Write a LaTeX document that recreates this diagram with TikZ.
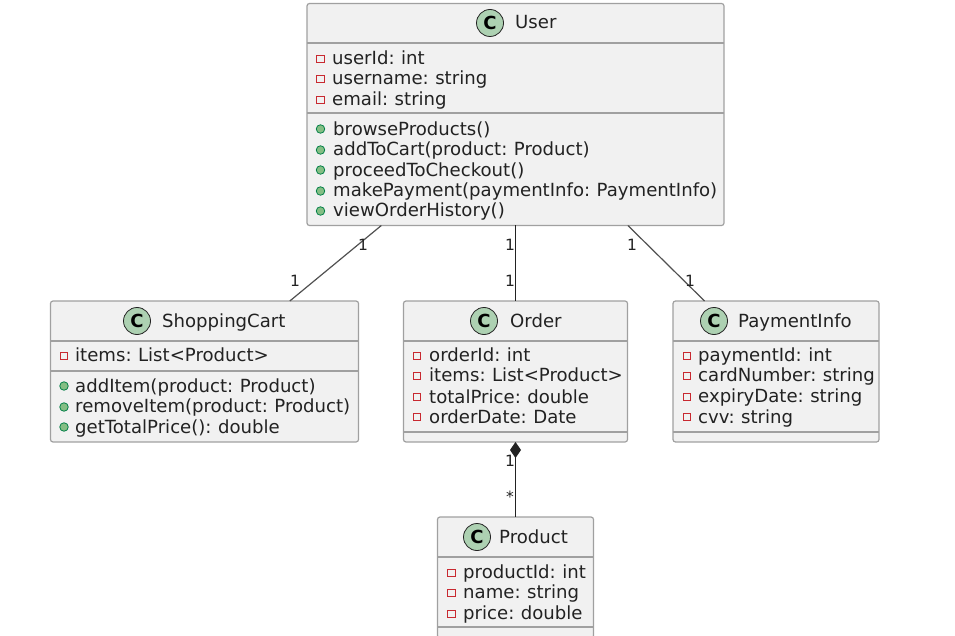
\documentclass[tikz,border=0pt]{standalone}
\usepackage{fontspec}
\usepackage{xcolor}
\usepackage{tikz}
\usetikzlibrary{arrows.meta}
\setmainfont{DejaVu Sans}
\definecolor{boxfill}{HTML}{F1F1F1}
\definecolor{boxline}{HTML}{A0A0A0}
\definecolor{spotfill}{HTML}{ADD1B2}
\definecolor{inkline}{HTML}{222222}
\definecolor{slantline}{HTML}{505050}
\definecolor{privred}{HTML}{C82930}
\definecolor{pubfill}{HTML}{84BE84}
\definecolor{publine}{HTML}{038048}
\newcommand{\memberfont}{\fontsize{18.1}{20}\selectfont\spaceskip=4.6pt\relax}
\tikzset{
  classbox/.style={draw=boxline, fill=boxfill, line width=1.2pt, rounded corners=2.5pt, inner sep=0pt, outer sep=0pt},
  spot/.style={circle, draw=inkline, fill=spotfill, line width=0.8pt, minimum size=27pt, inner sep=0pt, font=\fontsize{18}{20}\selectfont\bfseries},
  title/.style={anchor=base west, inner sep=0pt, text=inkline, font=\memberfont},
  member/.style={anchor=base west, inner sep=0pt, text=inkline, font=\memberfont},
  priv/.style={draw=privred, fill=boxfill, line width=1pt, minimum size=7.5pt, inner sep=0pt},
  pub/.style={circle, draw=publine, fill=pubfill, line width=0.8pt, minimum size=8.5pt, inner sep=0pt},
  sepline/.style={draw=boxline, line width=1.2pt},
  rel/.style={draw=inkline, line width=1.1pt},
  slant/.style={draw=slantline, line width=1.2pt},
  mult/.style={inner sep=0pt, text=inkline, font=\fontsize{15.5}{16}\selectfont}
}
\begin{document}
\begin{tikzpicture}[x=1pt, y=-1pt]
\useasboundingbox (0,0) rectangle (955,636);
\clip (0,0) rectangle (955,636);

% class boxes
\node[classbox, minimum width=417pt, minimum height=222pt] (user) at (515.5,114.5) {};
\node[classbox, minimum width=308pt, minimum height=141pt] (cart) at (204.5,371.5) {};
\node[classbox, minimum width=224pt, minimum height=141pt] (order) at (515.5,371.5) {};
\node[classbox, minimum width=206pt, minimum height=141pt] (payment) at (776,371.5) {};
\node[classbox, minimum width=156pt, minimum height=121pt] (product) at (515.5,577.5) {};

% relations
\draw[slant] (user) -- (cart);
\draw[rel] (user) -- (order);
\draw[slant] (user) -- (payment);
\draw[rel, {Diamond[length=16pt,width=11pt]}-] (order.south) -- (product.north);
\node[mult] (m1) at (363,245) {1};
\node[mult] (m2) at (295,281) {1};
\node[mult] (m3) at (510,245) {1};
\node[mult] (m4) at (510,281) {1};
\node[mult] (m5) at (632,245) {1};
\node[mult] (m6) at (690,281) {1};
\node[mult] (m7) at (510,461) {1};
\node[mult] (m8) at (510,497) {*};

% User
\node[spot] (userspot) at (490,23) {C};
\node[title] (usertitle) at (515,29) {User};
\draw[sepline] (user.west |- 0,43) -- (user.east |- 0,43);
\draw[sepline] (user.west |- 0,113) -- (user.east |- 0,113);
\node[priv] (ua1) at (320.5,59) {};
\node[member] (ua1t) at (332,65) {userId: int};
\node[priv] (ua2) at (320.5,79) {};
\node[member] (ua2t) at (332,85) {username: string};
\node[priv] (ua3) at (320.5,100) {};
\node[member] (ua3t) at (332,106) {email: string};
\node[pub] (um1) at (320.5,129) {};
\node[member] (um1t) at (333,136) {browseProducts()};
\node[pub] (um2) at (320.5,150) {};
\node[member] (um2t) at (333,156) {addToCart(product: Product)};
\node[pub] (um3) at (320.5,170) {};
\node[member] (um3t) at (333,176.5) {proceedToCheckout()};
\node[pub] (um4) at (320.5,191) {};
\node[member] (um4t) at (333,197) {makePayment(paymentInfo: PaymentInfo)};
\node[pub] (um5) at (320.5,211) {};
\node[member] (um5t) at (333,217) {viewOrderHistory()};

% ShoppingCart
\node[spot] (cartspot) at (137,321) {C};
\node[title] (carttitle) at (162,327) {ShoppingCart};
\draw[sepline] (cart.west |- 0,341) -- (cart.east |- 0,341);
\draw[sepline] (cart.west |- 0,371) -- (cart.east |- 0,371);
\node[priv] (ca1) at (64,356) {};
\node[member] (ca1t) at (75,361.5) {items: List<Product>};
\node[pub] (cm1) at (64,386) {};
\node[member] (cm1t) at (75,392) {addItem(product: Product)};
\node[pub] (cm2) at (64,407) {};
\node[member] (cm2t) at (75,412.5) {removeItem(product: Product)};
\node[pub] (cm3) at (64,427) {};
\node[member] (cm3t) at (75,433) {getTotalPrice(): double};

% Order
\node[spot] (orderspot) at (484,321) {C};
\node[title] (ordertitle) at (510,327) {Order};
\draw[sepline] (order.west |- 0,341) -- (order.east |- 0,341);
\draw[sepline] (order.west |- 0,432) -- (order.east |- 0,432);
\node[priv] (oa1) at (417,356) {};
\node[member] (oa1t) at (429,361.5) {orderId: int};
\node[priv] (oa2) at (417,376) {};
\node[member] (oa2t) at (429,381.5) {items: List<Product>};
\node[priv] (oa3) at (417,397) {};
\node[member] (oa3t) at (429,403) {totalPrice: double};
\node[priv] (oa4) at (417,417) {};
\node[member] (oa4t) at (429,423) {orderDate: Date};

% PaymentInfo
\node[spot] (paymentspot) at (714,321) {C};
\node[title] (paymenttitle) at (738,327) {PaymentInfo};
\draw[sepline] (payment.west |- 0,341) -- (payment.east |- 0,341);
\draw[sepline] (payment.west |- 0,432) -- (payment.east |- 0,432);
\node[priv] (pa1) at (687,356) {};
\node[member] (pa1t) at (698,361.5) {paymentId: int};
\node[priv] (pa2) at (687,376) {};
\node[member] (pa2t) at (698,381.5) {cardNumber: string};
\node[priv] (pa3) at (687,397) {};
\node[member] (pa3t) at (698,402.5) {expiryDate: string};
\node[priv] (pa4) at (687,417) {};
\node[member] (pa4t) at (698,423) {cvv: string};

% Product
\node[spot] (productspot) at (477,537) {C};
\node[title] (producttitle) at (499,543) {Product};
\draw[sepline] (product.west |- 0,557) -- (product.east |- 0,557);
\draw[sepline] (product.west |- 0,627) -- (product.east |- 0,627);
\node[priv] (ra1) at (451.5,573) {};
\node[member] (ra1t) at (463,578) {productId: int};
\node[priv] (ra2) at (451.5,593) {};
\node[member] (ra2t) at (463,598) {name: string};
\node[priv] (ra3) at (451.5,614) {};
\node[member] (ra3t) at (463,619) {price: double};
\end{tikzpicture}
\end{document}
